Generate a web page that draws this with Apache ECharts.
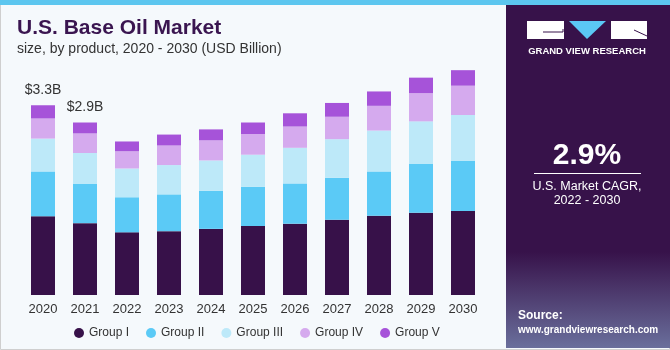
<!DOCTYPE html>
<html>
<head>
<meta charset="utf-8">
<script src="https://cdn.jsdelivr.net/npm/echarts@6/dist/echarts.min.js"></script>
<style>
    html, body { margin: 0; padding: 0; background: #f5f9fc; }
    #chart { width: 670px; height: 350px; }
</style>
</head>
<body>
<div id="chart"></div>
<script>
    // data (USD Billion)
    var years = ['2020', '2021', '2022', '2023', '2024', '2025', '2026', '2027', '2028', '2029', '2030'];
    var groupI   = [1.37, 1.25, 1.09, 1.11, 1.15, 1.20, 1.24, 1.31, 1.38, 1.43, 1.46];
    var groupII  = [0.78, 0.68, 0.61, 0.64, 0.66, 0.68, 0.70, 0.73, 0.77, 0.85, 0.87];
    var groupIII = [0.57, 0.54, 0.50, 0.51, 0.53, 0.56, 0.62, 0.67, 0.71, 0.74, 0.80];
    var groupIV  = [0.35, 0.34, 0.30, 0.34, 0.35, 0.36, 0.37, 0.39, 0.43, 0.49, 0.51];
    var groupV   = [0.23, 0.19, 0.17, 0.19, 0.19, 0.20, 0.23, 0.24, 0.25, 0.27, 0.27];
    var totalLabels = ['$3.3B', '$2.9B'];
    var seriesNames = ['Group I', 'Group II', 'Group III', 'Group IV', 'Group V'];
    var colors = ['#371149', '#5bcaf6', '#bde9f9', '#d5aaee', '#a653d9'];

    var myChart = echarts.init(document.getElementById('chart'));
    var font = '"Liberation Sans", Arial, sans-serif';

    // top segment carries the total labels for the first years
    var topData = groupV.map(function (v, i) {
        if (i < totalLabels.length) {
            return {
                value: v,
                label: {
                    show: true,
                    position: 'top',
                    distance: 8,
                    formatter: totalLabels[i],
                    color: '#333',
                    fontSize: 14,
                    fontFamily: font
                }
            };
        }
        return v;
    });

    var seriesData = [groupI, groupII, groupIII, groupIV, topData];
    var series = seriesData.map(function (d, i) {
        return {
            name: seriesNames[i],
            type: 'bar',
            stack: 'total',
            barWidth: 24,
            data: d,
            itemStyle: { color: colors[i] }
        };
    });

    var option = {
        animation: false,
        color: colors,
        graphic: [
            {//外框
                type: 'rect',
                shape: { x: 0.5, y: 0.5, width: 669, height: 349 },
                style: { fill: '#f5f9fc', stroke: '#cfcfcf', lineWidth: 1 },
                z: -10
            },
            {//顶部条
                type: 'rect',
                shape: { x: 0, y: 0, width: 670, height: 5 },
                style: { fill: '#5cc6ef' }
            },
            {//右侧面板
                type: 'rect',
                shape: { x: 506, y: 5, width: 164, height: 343 },
                style: {
                    fill: new echarts.graphic.LinearGradient(0, 0, 0, 1, [
                        { offset: 0, color: '#37124a' },
                        { offset: 0.72, color: '#37124a' },
                        { offset: 1, color: '#6a6f9c' }
                    ])
                }
            },
            // logo
            {
                type: 'rect',
                shape: { x: 527, y: 21, width: 37, height: 18 },
                style: { fill: '#ffffff' }
            },
            {
                type: 'polyline',
                shape: { points: [[543, 32], [563, 32], [563, 29]] },
                style: { stroke: '#37124a', lineWidth: 1, fill: null }
            },
            {
                type: 'polygon',
                shape: { points: [[569, 21], [606, 21], [587, 39]] },
                style: { fill: '#5bc8f5' }
            },
            {
                type: 'rect',
                shape: { x: 611, y: 21, width: 36, height: 18 },
                style: { fill: '#ffffff' }
            },
            {
                type: 'line',
                shape: { x1: 634, y1: 30, x2: 647, y2: 36 },
                style: { stroke: '#37124a', lineWidth: 1 }
            },
            {
                type: 'text',
                style: {
                    x: 587, y: 51, text: 'GRAND VIEW RESEARCH',
                    fill: '#ffffff', font: 'bold 9.5px ' + font,
                    textAlign: 'center', textVerticalAlign: 'middle'
                }
            },
            {
                type: 'text',
                style: {
                    x: 587, y: 156, text: '2.9%',
                    fill: '#ffffff', font: 'bold 30px ' + font,
                    textAlign: 'center', textVerticalAlign: 'middle'
                }
            },
            {
                type: 'line',
                shape: { x1: 534, y1: 173.5, x2: 641, y2: 173.5 },
                style: { stroke: '#ffffff', lineWidth: 1 }
            },
            {
                type: 'text',
                style: {
                    x: 587, y: 187, text: 'U.S. Market CAGR,',
                    fill: '#ffffff', font: '12.5px ' + font,
                    textAlign: 'center', textVerticalAlign: 'middle'
                }
            },
            {
                type: 'text',
                style: {
                    x: 587, y: 201, text: '2022 - 2030',
                    fill: '#ffffff', font: '12.5px ' + font,
                    textAlign: 'center', textVerticalAlign: 'middle'
                }
            },
            {
                type: 'text',
                style: {
                    x: 518, y: 316, text: 'Source:',
                    fill: '#ffffff', font: 'bold 12px ' + font,
                    textVerticalAlign: 'middle'
                }
            },
            {
                type: 'text',
                style: {
                    x: 518, y: 330, text: 'www.grandviewresearch.com',
                    fill: '#ffffff', font: 'bold 10px ' + font,
                    textVerticalAlign: 'middle'
                }
            },
            // title
            {
                type: 'text',
                style: {
                    x: 17, y: 28, text: 'U.S. Base Oil Market',
                    fill: '#3a1550', font: 'bold 21px ' + font,
                    textVerticalAlign: 'middle'
                }
            },
            {
                type: 'text',
                style: {
                    x: 17, y: 49, text: 'size, by product, 2020 - 2030 (USD Billion)',
                    fill: '#333333', font: '14px ' + font,
                    textVerticalAlign: 'middle'
                }
            }
        ],
        legend: {
            left: 69,
            top: 322,
            icon: 'circle',
            itemWidth: 10,
            itemHeight: 10,
            itemGap: 17,
            textStyle: { color: '#333', fontSize: 12, fontFamily: font },
            data: seriesNames
        },
        grid: {
            left: 22,
            width: 462,
            top: 65,
            height: 230
        },
        xAxis: {
            type: 'category',
            data: years,
            axisLine: { show: false },
            axisTick: { show: false },
            axisLabel: { color: '#333', fontSize: 13, fontFamily: font, margin: 8 }
        },
        yAxis: {
            type: 'value',
            min: 0,
            max: 4,
            show: false
        },
        series: series
    };
    myChart.setOption(option);
</script>
</body>
</html>
